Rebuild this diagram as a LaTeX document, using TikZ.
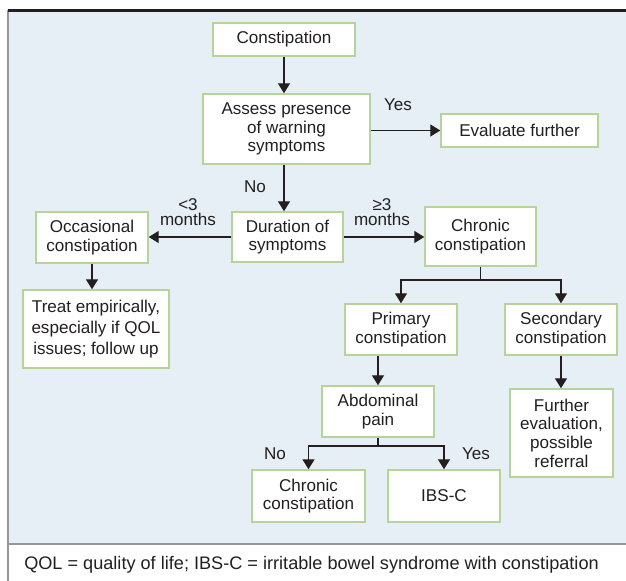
\documentclass[tikz,border=0pt]{standalone}
\usepackage{fontspec}
\setmainfont{Liberation Sans}
\usetikzlibrary{arrows.meta}
\definecolor{panelblue}{RGB}{230,239,245}
\definecolor{boxgreen}{RGB}{183,212,152}
\definecolor{inkc}{RGB}{35,31,32}
\definecolor{framegray}{RGB}{150,150,150}
\tikzset{
  fbox/.style={draw=boxgreen, line width=1.1pt, fill=white, align=center, inner sep=0pt,
    font=\fontsize{12.8pt}{14pt}\selectfont, text=inkc},
  conn/.style={draw=inkc, line width=1pt},
  arr/.style={conn, -{Triangle[length=7.5pt,width=9pt]}},
  lbl/.style={font=\fontsize{12.8pt}{11.3pt}\selectfont, text=inkc, align=center, inner sep=0pt}
}
\begin{document}
\begin{tikzpicture}[x=0.75pt,y=-0.75pt]
\useasboundingbox (0,0) rectangle (626,581);
\fill[white] (0,0) rectangle (626,581);
\fill[panelblue] (8,11) rectangle (626,544);
\draw[framegray, line width=0.8pt] (8,10) -- (8,581);
\draw[framegray, line width=0.8pt] (8,544) -- (626,544);
\draw[inkc, line width=2.2pt] (8,10.5) -- (626,10.5);

% boxes
\node[fbox, minimum width=142*0.75pt, minimum height=33*0.75pt] (c1) at (284,39.5) {Constipation};
\node[fbox, minimum width=167*0.75pt, minimum height=70*0.75pt] (assess) at (286.5,129) {Assess presence\\of warning\\symptoms};
\node[fbox, minimum width=157*0.75pt, minimum height=33*0.75pt] (eval) at (519.5,130.5) {Evaluate further};
\node[fbox, minimum width=111*0.75pt, minimum height=50*0.75pt] (dur) at (287.5,237) {Duration of\\symptoms};
\node[fbox, minimum width=112*0.75pt, minimum height=51*0.75pt] (occ) at (92,237.5) {Occasional\\constipation};
\node[fbox, minimum width=146*0.75pt, minimum height=78*0.75pt, font=\fontsize{12.8pt}{16pt}\selectfont] (treat) at (96,329) {Treat empirically,\\especially if QOL\\issues; follow up};
\node[fbox, minimum width=111*0.75pt, minimum height=59*0.75pt] (chron) at (480.5,236.5) {Chronic\\constipation};
\node[fbox, minimum width=112*0.75pt, minimum height=51*0.75pt] (prim) at (401,329.5) {Primary\\constipation};
\node[fbox, minimum width=112*0.75pt, minimum height=51*0.75pt] (sec) at (561,329.5) {Secondary\\constipation};
\node[fbox, minimum width=112*0.75pt, minimum height=51*0.75pt] (abd) at (378,411.5) {Abdominal\\pain};
\node[fbox, minimum width=103*0.75pt, minimum height=88*0.75pt] (fur) at (561.5,433) {Further\\evaluation,\\possible\\referral};
\node[fbox, minimum width=113*0.75pt, minimum height=52*0.75pt] (chron2) at (308.5,496) {Chronic\\constipation};
\node[fbox, minimum width=112*0.75pt, minimum height=52*0.75pt] (ibs) at (444,496) {IBS-C};

% junctions
\coordinate (j1) at (480.5,280);
\coordinate (j2) at (378,446);

% connectors
\draw[arr] (c1.south) -- (c1.south |- assess.north);
\draw[arr] (assess.east |- eval.west) -- (eval.west);
\draw[arr] (c1.south |- assess.south) -- (c1.south |- dur.north);
\draw[arr] (dur.west) -- (occ.east |- dur.west);
\draw[arr] (dur.east) -- (chron.west |- dur.east);
\draw[arr] (occ.south) -- (occ.south |- treat.north);
\draw[conn] (chron.south) -- (j1);
\draw[arr] (j1) -| (prim.north);
\draw[arr] (j1) -| (sec.north);
\draw[arr] (abd.north |- prim.south) -- (abd.north);
\draw[arr] (sec.south) -- (sec.south |- fur.north);
\draw[conn] (abd.south) -- (j2);
\draw[arr] (j2) -| (chron2.north);
\draw[arr] (j2) -| (ibs.north);

% labels
\node[lbl] (lyes1) at (398,105) {Yes};
\node[lbl] (lno1) at (255,187) {No};
\node[lbl] (llt) at (188,212) {<3\\months};
\node[lbl] (lge) at (382,212) {≥3\\months};
\node[lbl] (lno2) at (275,454) {No};
\node[lbl] (lyes2) at (476,454) {Yes};

\node[font=\fontsize{13.6pt}{14pt}\selectfont, text=inkc, anchor=west, inner sep=0pt] (cap) at (24,565) {QOL = quality of life; IBS-C = irritable bowel syndrome with constipation};
\end{tikzpicture}
\end{document}
